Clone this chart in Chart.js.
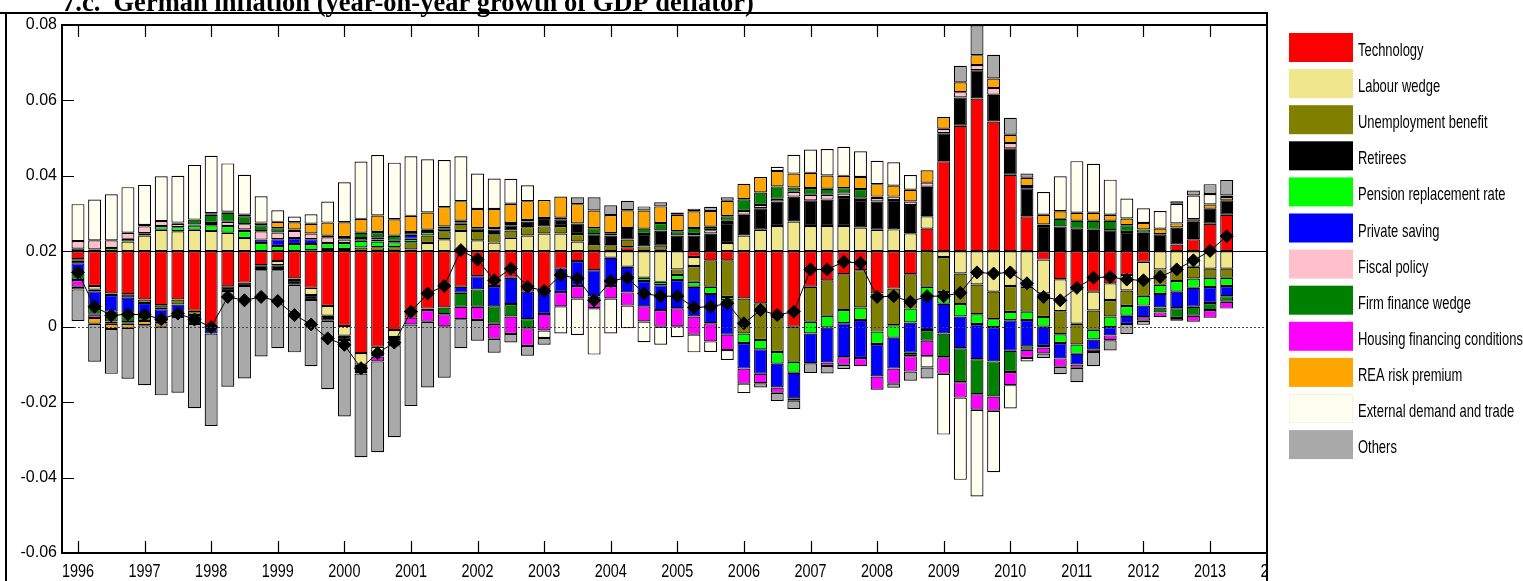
<!DOCTYPE html>
<html>
<head>
<meta charset="utf-8">
<title>German inflation decomposition</title>
<script src="https://cdn.jsdelivr.net/npm/chart.js@4.4.0/dist/chart.umd.min.js"></script>
<style>
  html, body { margin: 0; padding: 0; background: #fff; }
  #wrap { width: 1523px; height: 581px; position: relative; overflow: hidden; }
</style>
</head>
<body>
<div id="wrap"><canvas id="chart" width="1523" height="581"></canvas></div>
<script>
// quarters 1996Q1 .. 2013Q2
const years = [1996, 1997, 1998, 1999, 2000, 2001, 2002, 2003, 2004, 2005, 2006, 2007, 2008, 2009, 2010, 2011, 2012, 2013];
const lastQuarter = 2; // 2013Q2
const yearTicks = [1996, 1997, 1998, 1999, 2000, 2001, 2002, 2003, 2004, 2005, 2006, 2007, 2008, 2009, 2010, 2011, 2012, 2013, 2014];
const steadyState = 0.02;

const title = '7.c.  German inflation (year-on-year growth of GDP deflator)';

const seriesNames = ['Technology', 'Labour wedge', 'Unemployment benefit', 'Retirees', 'Pension replacement rate',
  'Private saving', 'Fiscal policy', 'Firm finance wedge', 'Housing financing conditions', 'REA risk premium',
  'External demand and trade', 'Others'];
const seriesColors = ['#ff0000', '#f0e68c', '#808000', '#000000', '#00ff00', '#0000ff',
  '#ffc0cb', '#008000', '#ff00ff', '#ffa500', '#fffff0', '#a9a9a9'];

// contributions, deviation from steady state
const technology = [
  -0.0021, -0.0092, -0.0112, -0.0114, -0.0128, -0.0143, -0.0128, -0.0158, -0.0200, -0.0093,
  -0.0083, -0.0037, -0.0026, -0.0072, -0.0097, -0.0145, -0.0198, -0.0270, -0.0253, -0.0209,
  -0.0176, -0.0152, -0.0149, -0.0094, -0.0066, -0.0092, -0.0070, -0.0107, -0.0101, -0.0046,
  -0.0026, -0.0050, 0, 0.0011, 0, 0.0004, 0, -0.0015, -0.0024, -0.0024,
  -0.0125, -0.0138, -0.0174, -0.0200, -0.0094, -0.0077, -0.0061, -0.0050, -0.0112, -0.0099,
  -0.0061, 0.0060, 0.0239, 0.0333, 0.0405, 0.0344, 0.0203, 0.0093, -0.0022, -0.0074,
  -0.0099, -0.0107, -0.0085, -0.0063, -0.0028, 0, 0.0018, 0.0032, 0.0073, 0.0097];
const labourWedge = [
  -0.0004, -0.0010, 0, 0.0026, 0.0042, 0.0057, 0.0053, 0.0057, 0.0054, 0.0049,
  0.0035, 0, -0.0011, -0.0004, -0.0019, -0.0026, -0.0026, -0.0031, -0.0022, -0.0018,
  0.0005, 0.0022, 0.0032, 0.0054, 0.0029, 0.0023, 0.0036, 0.0042, 0.0047, 0.0047,
  0.0026, 0, -0.0017, -0.0041, -0.0070, -0.0081, -0.0048, -0.0024, 0, 0.0022,
  0.0042, 0.0057, 0.0067, 0.0079, 0.0067, 0.0067, 0.0067, 0.0063, 0.0057, 0.0058,
  0.0048, 0.0033, -0.0015, -0.0059, -0.0088, -0.0107, -0.0092, -0.0094, -0.0090, -0.0085,
  -0.0093, -0.0050, -0.0044, -0.0041, -0.0048, -0.0048, -0.0046, -0.0041, -0.0046, -0.0046];
const unemploymentBenefit = [
  0, 0, 0, 0, -0.0009, -0.0007, -0.0013, -0.0011, 0, 0,
  0, 0, 0, 0, 0.0003, 0.0006, 0.0006, 0.0010, 0.0011, 0.0011,
  0.0019, 0.0020, 0.0021, 0.0019, 0.0025, 0.0022, 0.0019, 0.0022, 0.0019, 0.0020,
  0.0020, 0.0019, 0.0016, 0.0020, 0.0013, 0.0011, -0.0015, -0.0042, -0.0070, -0.0097,
  -0.0093, -0.0097, -0.0093, -0.0093, -0.0093, -0.0094, -0.0095, -0.0099, -0.0101, -0.0097,
  -0.0091, -0.0094, -0.0093, -0.0081, -0.0079, -0.0073, -0.0069, -0.0066, -0.0062, -0.0061,
  -0.0055, -0.0051, -0.0044, -0.0041, -0.0042, -0.0041, -0.0033, -0.0031, -0.0024, -0.0024];
const retirees = [
  -0.0007, -0.0004, -0.0004, -0.0009, 0, -0.0004, 0, 0, 0, -0.0012,
  -0.0009, -0.0013, -0.0013, -0.0013, -0.0013, -0.0013, -0.0011, -0.0019, -0.0004, -0.0009,
  0, -0.0004, 0, 0.0004, 0, 0.0013, 0.0014, 0.0015, 0.0022, 0.0018,
  0.0028, 0.0026, 0.0026, 0.0031, 0.0033, 0.0040, 0.0042, 0.0042, 0.0047, 0.0053,
  0.0055, 0.0057, 0.0065, 0.0066, 0.0068, 0.0070, 0.0077, 0.0073, 0.0075, 0.0078,
  0.0075, 0.0078, 0.0074, 0.0075, 0.0075, 0.0071, 0.0070, 0.0074, 0.0067, 0.0066,
  0.0060, 0.0057, 0.0056, 0.0051, 0.0049, 0.0045, 0.0045, 0.0046, 0.0040, 0.0038];
const pensionRate = [
  0.0007, 0.0005, 0.0009, 0.0007, 0.0006, 0.0010, 0.0011, 0.0011, 0.0015, 0.0018,
  0.0019, 0.0022, 0.0014, 0.0019, 0.0016, 0.0016, 0.0016, 0.0018, 0.0015, 0.0013,
  0.0009, 0.0009, 0.0007, 0.0004, 0.0007, 0, 0, 0, 0, 0,
  0, 0, 0, 0, -0.0009, -0.0009, -0.0013, -0.0013, -0.0019, -0.0009,
  -0.0025, -0.0025, -0.0031, -0.0029, -0.0031, -0.0031, -0.0035, -0.0033, -0.0033, -0.0033,
  -0.0037, -0.0025, -0.0031, -0.0033, -0.0026, -0.0021, -0.0022, -0.0022, -0.0026, -0.0023,
  -0.0025, -0.0026, -0.0028, -0.0026, -0.0026, -0.0024, -0.0028, -0.0025, -0.0025, -0.0022];
const privateSaving = [
  -0.0026, -0.0039, -0.0044, -0.0040, -0.0037, -0.0033, -0.0024, -0.0024, -0.0018, 0,
  0.0004, 0.0009, 0.0018, 0.0016, 0.0013, 0, 0, 0, 0.0005, 0,
  0.0011, 0.0006, 0, -0.0016, -0.0035, -0.0054, -0.0070, -0.0073, -0.0065, -0.0062,
  -0.0066, -0.0070, -0.0075, -0.0068, -0.0067, -0.0066, -0.0075, -0.0079, -0.0078, -0.0091,
  -0.0068, -0.0065, -0.0063, -0.0068, -0.0079, -0.0093, -0.0090, -0.0101, -0.0086, -0.0082,
  -0.0080, -0.0090, -0.0079, -0.0084, -0.0093, -0.0091, -0.0081, -0.0070, -0.0051, -0.0041,
  -0.0028, -0.0026, -0.0022, -0.0022, -0.0031, -0.0036, -0.0044, -0.0050, -0.0042, -0.0027];
const fiscalPolicy = [
  0.0020, 0.0024, 0.0020, 0.0016, 0.0018, 0.0013, 0.0009, 0.0003, 0.0006, 0.0011,
  0.0014, 0.0022, 0.0018, 0.0019, 0.0015, 0.0015, 0.0009, 0.0007, 0.0006, 0.0004,
  0, 0, 0.0006, 0, 0, 0.0004, 0.0006, 0.0004, 0, 0.0004,
  0, 0, 0, 0, 0, 0, 0, 0.0004, 0.0009, 0.0006,
  0.0010, 0.0009, 0.0007, 0.0013, 0.0015, 0.0013, 0.0009, 0.0007, 0.0009, 0.0009,
  0.0009, 0.0011, 0.0012, 0.0014, 0.0014, 0.0018, 0.0014, 0.0006, 0.0004, 0,
  0, 0, 0, 0, 0, 0, 0, 0, 0, 0];
const firmFinance = [
  -0.0018, -0.0023, -0.0026, -0.0025, -0.0011, -0.0004, -0.0009, 0.0013, 0.0022, 0.0024,
  0.0021, 0.0016, 0.0011, 0.0004, 0, 0.0004, 0.0007, 0.0014, 0.0014, 0.0013,
  0.0007, 0, -0.0018, -0.0037, -0.0046, -0.0046, -0.0033, -0.0024, 0, 0,
  0, 0.0016, 0.0006, 0, 0.0014, 0.0020, 0.0011, 0.0016, 0.0009, 0.0012,
  0.0031, 0.0033, 0.0033, 0.0011, 0.0018, 0.0016, 0.0014, 0.0022, 0.0004, 0,
  -0.0009, -0.0028, -0.0063, -0.0090, -0.0093, -0.0093, -0.0056, -0.0009, -0.0004, 0.0020,
  0.0021, 0.0024, 0.0025, 0.0018, 0.0009, -0.0013, -0.0026, -0.0024, -0.0019, -0.0015];
const housingFinance = [
  -0.0018, -0.0009, -0.0006, -0.0004, 0.0004, 0, 0.0003, 0, 0.0004, 0,
  0, 0, 0, 0, 0, 0, 0, -0.0004, -0.0013, -0.0013,
  -0.0018, -0.0031, -0.0032, -0.0033, -0.0035, -0.0040, -0.0046, -0.0047, -0.0044, -0.0038,
  -0.0033, -0.0031, -0.0033, -0.0035, -0.0040, -0.0044, -0.0048, -0.0048, -0.0048, -0.0041,
  -0.0040, -0.0025, -0.0014, -0.0006, 0, -0.0009, -0.0020, -0.0022, -0.0035, -0.0040,
  -0.0041, -0.0041, -0.0044, -0.0041, -0.0041, -0.0038, -0.0035, -0.0022, -0.0016, -0.0022,
  -0.0009, -0.0007, -0.0013, 0, -0.0009, -0.0013, -0.0007, -0.0016, -0.0020, -0.0018];
const reaRiskPremium = [
  -0.0007, -0.0015, -0.0014, -0.0011, -0.0011, -0.0009, 0, 0, 0, 0.0003,
  0.0004, 0.0007, 0.0017, 0.0019, 0.0026, 0.0035, 0.0039, 0.0037, 0.0044, 0.0044,
  0.0043, 0.0046, 0.0051, 0.0052, 0.0051, 0.0050, 0.0051, 0.0050, 0.0048, 0.0056,
  0.0051, 0.0047, 0.0048, 0.0047, 0.0048, 0.0044, 0.0044, 0.0044, 0.0042, 0.0041,
  0.0041, 0.0041, 0.0041, 0.0037, 0.0040, 0.0035, 0.0033, 0.0032, 0.0033, 0.0029,
  0.0031, 0.0033, 0.0031, 0.0026, 0.0026, 0.0025, 0.0022, 0.0022, 0.0026, 0.0020,
  0.0021, 0.0021, 0.0016, 0.0018, 0.0017, 0.0015, 0.0011, 0.0007, 0.0011, 0.0009];
const externalDemand = [
  0.0098, 0.0108, 0.0122, 0.0121, 0.0106, 0.0119, 0.0124, 0.0145, 0.0152, 0.0128,
  0.0106, 0.0070, 0.0031, 0.0015, 0.0025, 0.0056, 0.0106, 0.0152, 0.0160, 0.0150,
  0.0158, 0.0141, 0.0125, 0.0119, 0.0094, 0.0081, 0.0066, 0.0042, -0.0020, -0.0072,
  -0.0097, -0.0123, -0.0093, -0.0060, -0.0055, -0.0048, -0.0029, -0.0047, -0.0028, -0.0026,
  -0.0025, 0, 0.0011, 0.0050, 0.0062, 0.0070, 0.0077, 0.0068, 0.0062, 0.0062,
  0.0039, -0.0030, -0.0161, -0.0218, -0.0230, -0.0163, -0.0062, -0.0009, 0.0060, 0.0093,
  0.0137, 0.0130, 0.0093, 0.0053, 0.0039, 0.0047, 0.0052, 0.0063, 0.0028, 0.0004];
const others = [
  -0.0084, -0.0101, -0.0119, -0.0135, -0.0159, -0.0182, -0.0201, -0.0223, -0.0245, -0.0254,
  -0.0245, -0.0229, -0.0207, -0.0179, -0.0176, -0.0182, -0.0203, -0.0222, -0.0241, -0.0244,
  -0.0216, -0.0174, -0.0136, -0.0077, -0.0055, -0.0037, -0.0023, -0.0026, -0.0018, 0,
  0.0018, 0.0035, 0.0026, 0.0025, 0.0011, 0.0011, 0.0006, 0.0007, 0.0011, 0.0009,
  0, -0.0011, -0.0022, -0.0022, -0.0026, -0.0020, -0.0011, 0, 0, -0.0011,
  -0.0024, -0.0029, 0, 0.0044, 0.0079, 0.0063, 0.0045, 0.0011, -0.0012, -0.0020,
  -0.0038, -0.0038, -0.0027, -0.0026, -0.0011, 0, 0.0007, 0.0013, 0.0026, 0.0041];

// year-on-year growth of GDP deflator (diamonds)
const gdpDeflator = [
  0.0144, 0.0053, 0.0030, 0.0033, 0.0032, 0.0020, 0.0035, 0.0019, -0.0001, 0.0079,
  0.0070, 0.0079, 0.0068, 0.0031, 0.0006, -0.0031, -0.0048, -0.0110, -0.0070, -0.0042,
  0.0040, 0.0088, 0.0108, 0.0203, 0.0178, 0.0123, 0.0154, 0.0106, 0.0095, 0.0137,
  0.0128, 0.0070, 0.0121, 0.0130, 0.0088, 0.0081, 0.0081, 0.0051, 0.0053, 0.0062,
  0.0009, 0.0044, 0.0031, 0.0040, 0.0152, 0.0152, 0.0172, 0.0169, 0.0079, 0.0081,
  0.0066, 0.0081, 0.0081, 0.0090, 0.0144, 0.0141, 0.0144, 0.0115, 0.0079, 0.0070,
  0.0103, 0.0130, 0.0132, 0.0125, 0.0123, 0.0132, 0.0152, 0.0176, 0.0201, 0.0240];

const seriesData = [technology, labourWedge, unemploymentBenefit, retirees, pensionRate, privateSaving,
  fiscalPolicy, firmFinance, housingFinance, reaRiskPremium, externalDemand, others];

// quarter positions on the time axis
const quarterPos = [];
years.forEach(y => {
  for (let q = 0; q < 4; q++) {
    if (y === years[years.length - 1] && q >= lastQuarter) break;
    quarterPos.push(y + q / 4);
  }
});

// bars grow up and down from the steady state line
const posTop = quarterPos.map(() => steadyState);
const negBottom = quarterPos.map(() => steadyState);
const barSets = seriesData.map((vals, k) => ({
  type: 'bar',
  label: seriesNames[k],
  data: vals.map((v, i) => {
    if (!v) return { x: quarterPos[i], y: null };
    let lo, hi;
    if (v > 0) { lo = posTop[i]; hi = lo + v; posTop[i] = hi; }
    else { hi = negBottom[i]; lo = hi + v; negBottom[i] = lo; }
    return { x: quarterPos[i], y: [lo, hi] };
  }),
  backgroundColor: seriesColors[k],
  borderColor: '#000',
  borderWidth: 1.2,
  borderSkipped: false,
  grouped: false,
  barPercentage: 0.78,
  categoryPercentage: 1,
  order: 1
}));

const lineSet = {
  type: 'line',
  label: 'GDP deflator',
  data: quarterPos.map((x, i) => ({ x: x, y: gdpDeflator[i] })),
  borderColor: '#000',
  borderWidth: 1,
  pointStyle: 'rectRot',
  pointRadius: 6.5,
  pointBackgroundColor: '#000',
  pointBorderColor: '#000',
  fill: false,
  tension: 0,
  order: 0
};

const FRAME_RIGHT = 1267;

const decor = {
  id: 'decor',
  beforeDraw(chart) {
    const ctx = chart.ctx;
    ctx.save();
    ctx.fillStyle = '#fff';
    ctx.fillRect(0, 0, chart.width, chart.height);
    ctx.restore();
  },
  afterDatasetsDraw(chart) {
    const ctx = chart.ctx, a = chart.chartArea, ys = chart.scales.y;
    ctx.save();
    // steady state line
    const ySS = Math.round(ys.getPixelForValue(steadyState)) + 0.5;
    ctx.strokeStyle = '#000';
    ctx.lineWidth = 1;
    ctx.beginPath(); ctx.moveTo(a.left, ySS); ctx.lineTo(a.right, ySS); ctx.stroke();
    // zero line, dotted
    const y0 = Math.round(ys.getPixelForValue(0)) + 0.5;
    ctx.strokeStyle = '#444';
    ctx.setLineDash([2, 2]);
    ctx.beginPath(); ctx.moveTo(a.left, y0); ctx.lineTo(a.right, y0); ctx.stroke();
    ctx.restore();
  },
  afterDraw(chart) {
    const ctx = chart.ctx, a = chart.chartArea, xs = chart.scales.x, ys = chart.scales.y;
    ctx.save();

    // title, partly hidden above the frame
    ctx.fillStyle = '#000';
    ctx.font = 'bold 26.5px "Liberation Serif", "Times New Roman", serif';
    ctx.textBaseline = 'alphabetic';
    ctx.textAlign = 'left';
    ctx.fillText(title, 62, 11);

    // outer frame
    ctx.strokeStyle = '#000';
    ctx.lineWidth = 2;
    ctx.beginPath();
    ctx.moveTo(0, 13); ctx.lineTo(FRAME_RIGHT + 1, 13);
    ctx.moveTo(6, 13); ctx.lineTo(6, chart.height);
    ctx.moveTo(FRAME_RIGHT, 13); ctx.lineTo(FRAME_RIGHT, chart.height);
    ctx.stroke();

    // plot box
    ctx.lineWidth = 2;
    ctx.strokeRect(a.left, a.top, a.right - a.left, a.bottom - a.top);

    // inner tick marks
    ctx.lineWidth = 1.2;
    ctx.beginPath();
    yearTicks.forEach(yr => {
      const x = Math.round(xs.getPixelForValue(yr)) + 0.5;
      if (x > a.right - 2) return;
      ctx.moveTo(x, a.top); ctx.lineTo(x, a.top + 12);
      ctx.moveTo(x, a.bottom); ctx.lineTo(x, a.bottom - 12);
    });
    ys.ticks.forEach(t => {
      const y = Math.round(ys.getPixelForValue(t.value)) + 0.5;
      ctx.moveTo(a.left, y); ctx.lineTo(a.left + 12, y);
    });
    ctx.stroke();

    // year labels (narrow face)
    ctx.save();
    ctx.beginPath();
    ctx.rect(0, a.bottom, FRAME_RIGHT - 1, chart.height - a.bottom);
    ctx.clip();
    ctx.font = '18.5px "Liberation Sans", Arial, sans-serif';
    ctx.textAlign = 'center';
    ctx.fillStyle = '#000';
    yearTicks.forEach(yr => {
      const x = xs.getPixelForValue(yr);
      ctx.save();
      ctx.translate(x, 577);
      ctx.scale(0.78, 1);
      ctx.fillText(String(yr), 0, 0);
      ctx.restore();
    });
    ctx.restore();

    // legend
    ctx.font = '18.5px "Liberation Sans", Arial, sans-serif';
    ctx.textAlign = 'left';
    seriesNames.forEach((name, i) => {
      const top = 33 + 36.1 * i;
      ctx.fillStyle = seriesColors[i];
      ctx.fillRect(1289, top, 64, 29);
      if (seriesColors[i] === '#fffff0') {
        ctx.strokeStyle = '#f2f2e0';
        ctx.lineWidth = 1;
        ctx.strokeRect(1289.5, top + 0.5, 63, 28);
      }
      ctx.fillStyle = '#000';
      ctx.save();
      ctx.translate(1358, top + 23);
      ctx.scale(0.70, 1);
      ctx.fillText(name, 0, 0);
      ctx.restore();
    });

    ctx.restore();
  }
};

new Chart(document.getElementById('chart').getContext('2d'), {
  data: { datasets: [lineSet, ...barSets] },
  options: {
    responsive: false,
    devicePixelRatio: 1,
    animation: false,
    layout: { padding: { left: 0, top: 25, right: 1523 - FRAME_RIGHT, bottom: 0 } },
    plugins: {
      legend: { display: false },
      tooltip: { enabled: false },
      title: { display: false }
    },
    scales: {
      x: {
        type: 'linear',
        min: 1995.76,
        max: 2013.855,
        offset: false,
        ticks: { display: false },
        grid: { display: false, drawTicks: false },
        border: { display: false },
        afterFit(s) { s.height = 28; }
      },
      y: {
        type: 'linear',
        min: -0.06,
        max: 0.08,
        ticks: {
          stepSize: 0.02,
          padding: 5,
          color: '#000',
          font: { family: '"Liberation Sans", Arial, sans-serif', size: 16 },
          callback: v => Math.abs(v) < 1e-9 ? '0' : v.toFixed(2)
        },
        grid: { display: false, drawTicks: false },
        border: { display: false },
        afterFit(s) { s.width = 62; }
      }
    }
  },
  plugins: [decor]
});
</script>
</body>
</html>
